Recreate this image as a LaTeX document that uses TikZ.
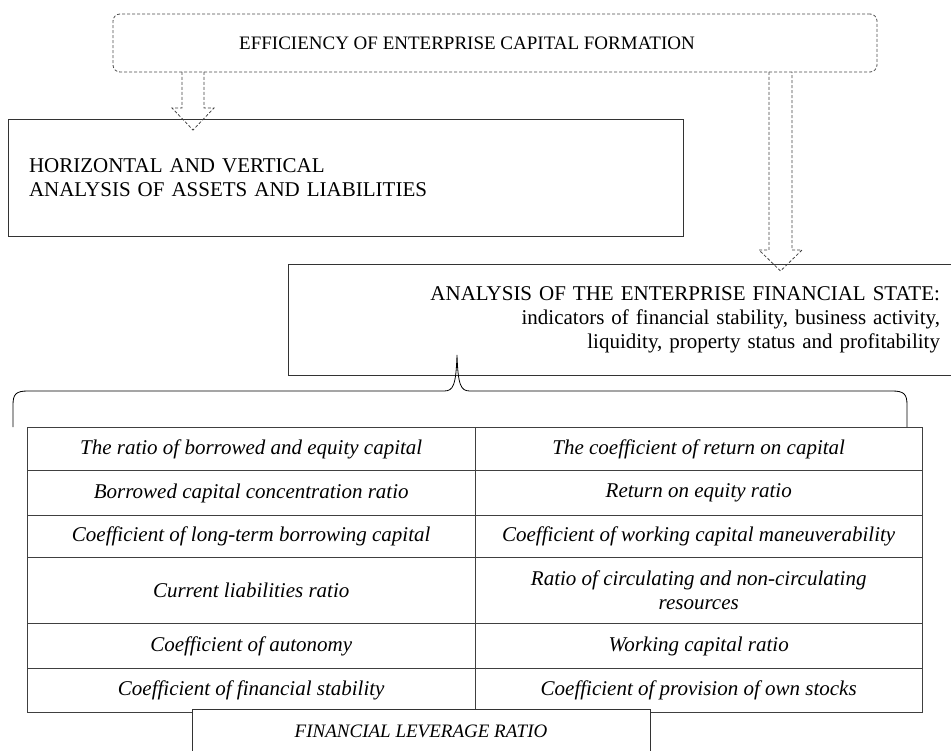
\documentclass[tikz,border=0pt]{standalone}
\usepackage{fontspec}
\setmainfont{Liberation Serif}
\usetikzlibrary{positioning}

\begin{document}
\begin{tikzpicture}[x=1pt,y=-1pt,every node/.style={font=\fontsize{21}{24}\selectfont, inner sep=0pt},box/.style={draw=black!80, line width=0.9pt},dbox/.style={draw=black!70, densely dashed, line width=0.8pt, rounded corners=7pt},barrow/.style={draw=black!75, densely dashed, line width=0.8pt},cell/.style={draw=black!75, line width=0.9pt, minimum width=447.5pt, anchor=north west, align=center, font=\fontsize{21}{24}\selectfont\itshape}]
\useasboundingbox (0,0) rectangle (951,751);
\node[dbox, minimum width=764pt, minimum height=58pt] (eff) at (495,43) {};
\node[font=\fontsize{19}{23}\selectfont] (efftext) at (467,43) {EFFICIENCY OF ENTERPRISE CAPITAL FORMATION};
\node[box, minimum width=675pt, minimum height=117pt, text width=633pt, align=left] (hva) at (345.5,177.5) {HORIZONTAL AND VERTICAL\\ANALYSIS OF ASSETS AND LIABILITIES};
\node[box, minimum width=682pt, minimum height=111pt, text width=622pt, align=right] (fin) at (629,320) {ANALYSIS OF THE ENTERPRISE FINANCIAL STATE:\\indicators of financial stability, business activity,\\liquidity, property status and profitability};
% block arrows
\draw[barrow] (182,72) -- (182,108) -- (172,108) -- (193,130) -- (214,108) -- (204,108) -- (204,72);
\draw[barrow] (769,72) -- (769,250) -- (759,250) -- (780.5,271) -- (802,250) -- (792,250) -- (792,72);
% brace
\draw[black, line width=0.8pt] (13,427) -- (13,405) .. controls (13,394) and (16,391) .. (28,391) -- (444,391) .. controls (453,391) and (456,386) .. (457,355) .. controls (458,386) and (461,391) .. (470,391) -- (892,391) .. controls (904,391) and (907,394) .. (907,405) -- (907,427);
% table of ratios
\foreach \rtop/\rh/\lt/\rt in {427/43/{The ratio of borrowed and equity capital}/{The coefficient of return on capital},
  470/45/{Borrowed capital concentration ratio}/{Return on equity ratio},
  515/42/{Coefficient of long-term borrowing capital}/{Coefficient of working capital maneuverability},
  557/66/{Current liabilities ratio}/{Ratio of circulating and non-circulating\\resources},
  623/45/{Coefficient of autonomy}/{Working capital ratio},
  668/44/{Coefficient of financial stability}/{Coefficient of provision of own stocks}}
{
\node[cell, minimum height=\rh pt] (l\rtop) at (27,\rtop) {\lt};
\node[cell, minimum height=\rh pt] (r\rtop) at (474.5,\rtop) {\rt};
}
\node[box, fill=white, minimum width=458pt, minimum height=44pt, font=\fontsize{19}{23}\selectfont\itshape] (lev) at (421,731) {FINANCIAL LEVERAGE RATIO};
\end{tikzpicture}
\end{document}
